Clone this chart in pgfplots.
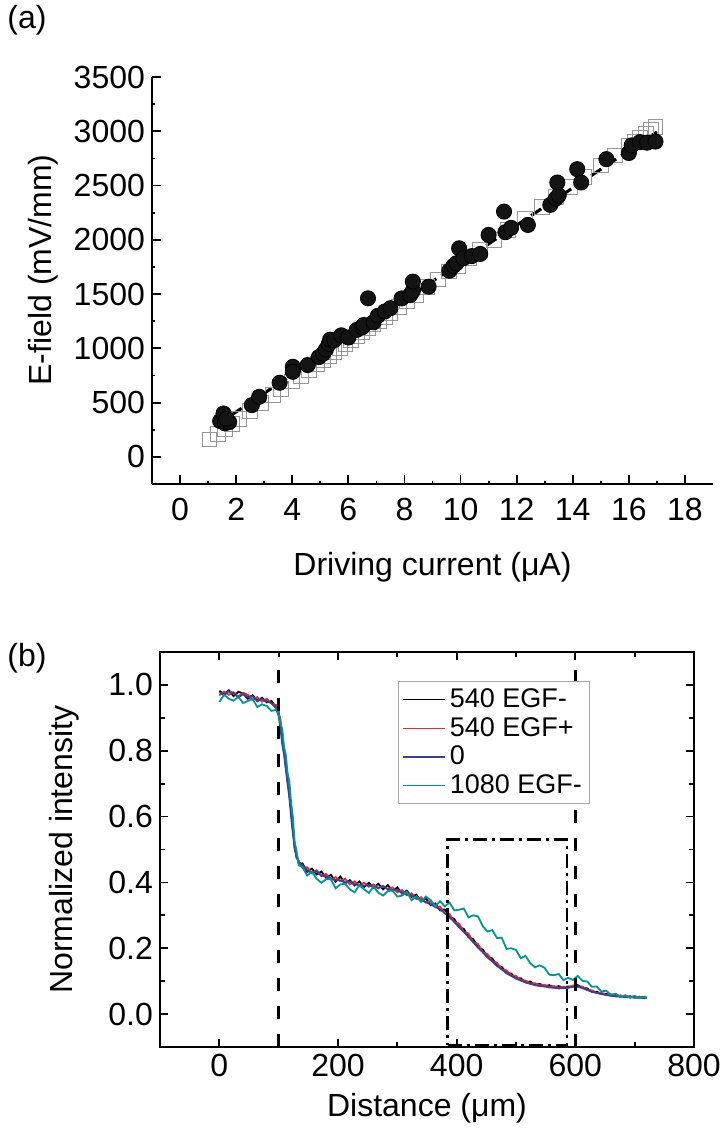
\documentclass[border=0pt]{standalone}
\usepackage{fontspec}
\setmainfont{Liberation Sans}
\usepackage{pgfplots}
\pgfplotsset{compat=1.18}
\definecolor{cred}{RGB}{225,45,45}
\definecolor{cblue}{RGB}{55,65,155}
\definecolor{cteal}{RGB}{0,150,150}
\definecolor{csq}{RGB}{150,150,150}
\newcommand{\bigf}{\fontsize{16}{19}\selectfont}
\newcommand{\legf}{\fontsize{13.5}{16}\selectfont}
\begin{document}
\begin{tikzpicture}
\useasboundingbox (0,0) rectangle (362pt,-571pt);
\node[font=\bigf] at (13.5pt,-10pt) {(a)};
\node[font=\bigf] at (13.5pt,-329pt) {(b)};
% ---------------- (a)
\begin{axis}[at={(76pt,-242pt)}, anchor=south west, scale only axis,
  width=280.5pt, height=203.5pt,
  xmin=-1, xmax=19, ymin=-250, ymax=3500,
  axis x line*=bottom, axis y line*=left,
  axis line style={-, line width=1pt},
  xtick={0,2,...,18}, minor x tick num=1,
  ytick={0,500,...,3500}, minor y tick num=1,
  tick align=inside, major tick length=4.5pt, minor tick length=1.5pt,
  tick style={black, line width=0.9pt},
  /pgf/number format/assume math mode=true,
  /pgf/number format/1000 sep={},
  tick label style={font=\bigf},
  xticklabel style={yshift=-3.5pt},
  label style={font=\bigf},
  xlabel={Driving current (μA)},
  xlabel style={at={(axis description cs:0.5,-0.204)}, anchor=center},
  ylabel={E-field (mV/mm)},
  ylabel style={at={(axis description cs:-0.194,0.526)}, anchor=center, rotate=0},
  clip=false]
\addplot[only marks, mark=square, mark size=3.7pt, mark options={draw=csq, fill=white, line width=0.5pt}] coordinates {
(1.05,160) (1.35,214) (1.6,260) (1.85,305) (2.1,350) (2.5,423) (2.9,495) (3.3,567) (3.6,622) (4.0,694)
(4.3,748) (4.6,803) (4.9,857) (5.1,893) (5.3,929) (5.5,966) (5.7,1002) (5.9,1038) (6.1,1074) (6.3,1110)
(6.5,1147) (6.7,1183) (6.9,1219) (7.1,1255) (7.3,1291) (7.5,1328) (7.8,1382) (8.1,1436) (8.4,1490) (8.8,1563)
(9.2,1635) (9.6,1708) (9.9,1762) (10.3,1834) (10.7,1907) (11.2,1997) (11.7,2088) (12.3,2196) (12.9,2305) (13.4,2395)
(13.9,2486) (14.4,2576) (15.0,2685) (15.5,2776) (16.0,2866) (16.2,2902) (16.4,2938) (16.6,2975) (16.8,3011) (16.95,3038)
};
\addplot[black, line width=1.5pt, dash pattern=on 6pt off 3pt] coordinates {(1.3,294) (17,2994)};
\addplot[only marks, mark=*, mark size=3.8pt, mark options={draw=black, fill=black!92}] coordinates {
(1.43,330) (1.55,400) (1.6,310) (1.75,320) (1.65,350)
(2.56,477) (2.82,553) (3.55,683) (4.02,830) (4.02,784) (4.55,846)
(4.95,920) (5.1,950) (5.2,990) (5.3,1040) (5.35,1080) (5.5,1076) (5.75,1120) (6.0,1100)
(6.3,1170) (6.5,1195) (6.55,1215) (6.7,1461) (6.9,1240) (7.05,1300) (7.3,1340) (7.5,1370)
(7.9,1460) (8.2,1490) (8.3,1530) (8.3,1615) (8.86,1568)
(9.6,1715) (9.75,1760) (9.85,1784) (9.95,1922) (10.1,1830) (10.4,1850) (10.7,1870)
(11.0,2045) (11.55,2260) (11.6,2070) (11.8,2110) (12.4,2137)
(13.2,2322) (13.4,2380) (13.5,2410) (13.45,2528) (14.16,2651) (14.3,2528) (15.2,2743)
(16.0,2800) (16.1,2870) (16.4,2900) (16.65,2895) (16.95,2905)
};
\end{axis}
% ---------------- (b)
\begin{axis}[at={(80pt,-523.5pt)}, anchor=south west, scale only axis,
  width=267pt, height=197.5pt,
  xmin=-100, xmax=800, ymin=-0.1, ymax=1.1,
  axis line style={line width=1pt},
  xtick={0,200,...,800}, minor x tick num=1,
  ytick={0,0.2,0.4,0.6,0.8,1.0}, minor y tick num=1,
  tick align=inside, major tick length=4pt, minor tick length=2.5pt,
  tick style={black, line width=0.9pt},
  /pgf/number format/assume math mode=true,
  /pgf/number format/1000 sep={},
  yticklabel style={/pgf/number format/.cd, fixed, fixed zerofill, precision=1},
  tick label style={font=\bigf},
  label style={font=\bigf},
  xlabel={Distance (μm)},
  xlabel style={at={(axis description cs:0.5,-0.154)}, anchor=center},
  ylabel={Normalized intensity},
  ylabel style={at={(axis description cs:-0.18,0.5)}, anchor=center},
  legend style={at={(axis description cs:0.446,0.927)}, anchor=north west,
    draw=black!35, line width=0.5pt, font=\legf, inner xsep=2pt, inner ysep=1.5pt,
    row sep=-0.5pt},
  legend cell align=left,
  legend image code/.code={\draw[#1, line width=0.6pt] (0pt,0pt) -- (21pt,0pt);},
  every axis plot/.append style={line width=0.9pt}]
\addplot[black] coordinates {
(0,.982) (8,.971) (16,.984) (24,.966) (32,.979) (40,.974) (48,.958) (56,.969) (64,.952) (72,.961) (80,.947) (88,.951) (96,.931)
(100,.918) (103,.884) (106,.855) (109,.795) (112,.765) (115,.712) (118,.676) (121,.614) (124,.566) (127,.503) (130,.486) (134,.455)
(140,.458) (148,.432) (156,.442) (164,.424) (172,.433) (180,.414) (188,.423) (196,.402) (204,.418) (212,.397) (220,.407) (228,.391)
(236,.403) (244,.386) (252,.399) (260,.384) (268,.396) (276,.379) (284,.392) (292,.374) (300,.385) (308,.366) (316,.375) (324,.356)
(332,.363) (340,.343) (348,.352) (356,.331) (364,.336) (372,.315) (380,.318) (388,.296) (396,.289) (404,.264) (412,.259) (420,.234)
(428,.228) (436,.203) (444,.196) (452,.174) (460,.169) (468,.148) (476,.143) (484,.126) (492,.123) (500,.109) (508,.109) (516,.097)
(524,.099) (532,.089) (540,.092) (548,.085) (556,.088) (564,.081) (572,.085) (580,.079) (588,.084) (596,.083) (604,.088) (612,.080)
(620,.078) (628,.068) (636,.068) (644,.061) (652,.062) (660,.056) (668,.058) (676,.053) (684,.056) (692,.051) (700,.054) (708,.050)
(716,.052) (720,.049)
};
\addlegendentry{540 EGF-}
\addplot[cred] coordinates {
(0,.968) (8,.980) (16,.970) (24,.978) (32,.965) (40,.976) (48,.970) (56,.955) (64,.963) (72,.949) (80,.958) (88,.943) (96,.939)
(100,.912) (103,.895) (106,.842) (109,.806) (112,.752) (115,.728) (118,.662) (121,.628) (124,.552) (127,.517) (130,.474) (134,.466)
(140,.444) (148,.446) (156,.429) (164,.437) (172,.419) (180,.426) (188,.409) (196,.416) (204,.404) (212,.411) (220,.394) (228,.403)
(236,.390) (244,.399) (252,.387) (260,.394) (268,.382) (276,.390) (284,.379) (292,.385) (300,.370) (308,.377) (316,.361) (324,.367)
(332,.350) (340,.355) (348,.339) (356,.343) (364,.325) (372,.327) (380,.306) (388,.304) (396,.280) (404,.275) (412,.250) (420,.245)
(428,.219) (436,.213) (444,.188) (452,.182) (460,.161) (468,.156) (476,.136) (484,.133) (492,.117) (500,.116) (508,.103) (516,.102)
(524,.093) (532,.094) (540,.087) (548,.089) (556,.083) (564,.085) (572,.080) (580,.083) (588,.080) (596,.087) (604,.084) (612,.084)
(620,.074) (628,.072) (636,.064) (644,.065) (652,.058) (660,.060) (668,.054) (676,.057) (684,.052) (692,.055) (700,.050) (708,.053)
(716,.049) (720,.051)
};
\addlegendentry{540 EGF+}
\addplot[cblue] coordinates {
(0,.978) (8,.969) (16,.981) (24,.975) (32,.962) (40,.972) (48,.963) (56,.966) (64,.950) (72,.958) (80,.950) (88,.945) (96,.928)
(100,.905) (103,.870) (106,.820) (109,.790) (112,.745) (115,.700) (118,.660) (121,.600) (124,.550) (127,.505) (130,.478) (134,.462)
(140,.452) (148,.437) (156,.428) (164,.434) (172,.421) (180,.418) (188,.412) (196,.407) (204,.406) (212,.400) (220,.403) (228,.394)
(236,.392) (244,.390) (252,.393) (260,.385) (268,.384) (276,.388) (284,.380) (292,.376) (300,.378) (308,.368) (316,.364) (324,.360)
(332,.352) (340,.347) (348,.340) (356,.334) (364,.326) (372,.318) (380,.307) (388,.294) (396,.280) (404,.264) (412,.250) (420,.234)
(428,.218) (436,.202) (444,.188) (452,.172) (460,.160) (468,.146) (476,.136) (484,.124) (492,.116) (500,.108) (508,.102) (516,.096)
(524,.092) (532,.088) (540,.085) (548,.084) (556,.081) (564,.080) (572,.078) (580,.079) (588,.080) (596,.083) (604,.083) (612,.079)
(620,.073) (628,.068) (636,.064) (644,.061) (652,.058) (660,.056) (668,.054) (676,.053) (684,.052) (692,.051) (700,.050) (708,.050)
(716,.049) (720,.049)
};
\addlegendentry{0}
\addplot[cteal] coordinates {
(0,.948) (8,.970) (16,.958) (24,.952) (32,.964) (40,.945) (48,.951) (56,.957) (64,.933) (72,.941) (80,.936) (88,.921) (96,.925)
(100,.912) (103,.882) (106,.866) (109,.812) (112,.788) (115,.732) (118,.708) (121,.642) (124,.598) (127,.522) (130,.497) (134,.452)
(140,.447) (148,.421) (156,.432) (164,.411) (172,.399) (180,.410) (188,.410) (196,.382) (204,.394) (212,.396) (220,.379) (228,.370)
(236,.391) (244,.379) (252,.368) (260,.387) (268,.369) (276,.360) (284,.374) (292,.375) (300,.357) (308,.360) (316,.372) (324,.346)
(332,.358) (340,.341) (348,.357) (356,.347) (364,.328) (372,.343) (380,.327) (388,.339) (396,.315) (404,.317) (412,.321) (420,.294)
(428,.300) (436,.297) (444,.267) (452,.251) (460,.255) (468,.231) (476,.232) (484,.198) (492,.200) (500,.195) (508,.170) (516,.177)
(524,.155) (532,.142) (540,.148) (548,.141) (556,.120) (564,.118) (572,.122) (580,.103) (588,.110) (596,.104) (604,.116) (612,.101)
(620,.099) (628,.083) (636,.084) (644,.069) (652,.071) (660,.059) (668,.062) (676,.052) (684,.057) (692,.050) (700,.055) (708,.048)
(716,.053) (720,.050)
};
\addlegendentry{1080 EGF-}
\addplot[black, line width=1.5pt, dash pattern=on 6.5pt off 7.5pt, forget plot] coordinates {(100,-0.1) (100,1.07)};
\addplot[black, line width=1.5pt, dash pattern=on 6.5pt off 7.5pt, forget plot] coordinates {(600,-0.1) (600,1.07)};
\addplot[black, line width=1.3pt, dash pattern=on 7pt off 2.5pt on 1.5pt off 2.5pt, forget plot] coordinates {
(385,-0.095) (586,-0.095) (586,0.53) (385,0.53) (385,-0.095)};
\end{axis}
\end{tikzpicture}
\end{document}
